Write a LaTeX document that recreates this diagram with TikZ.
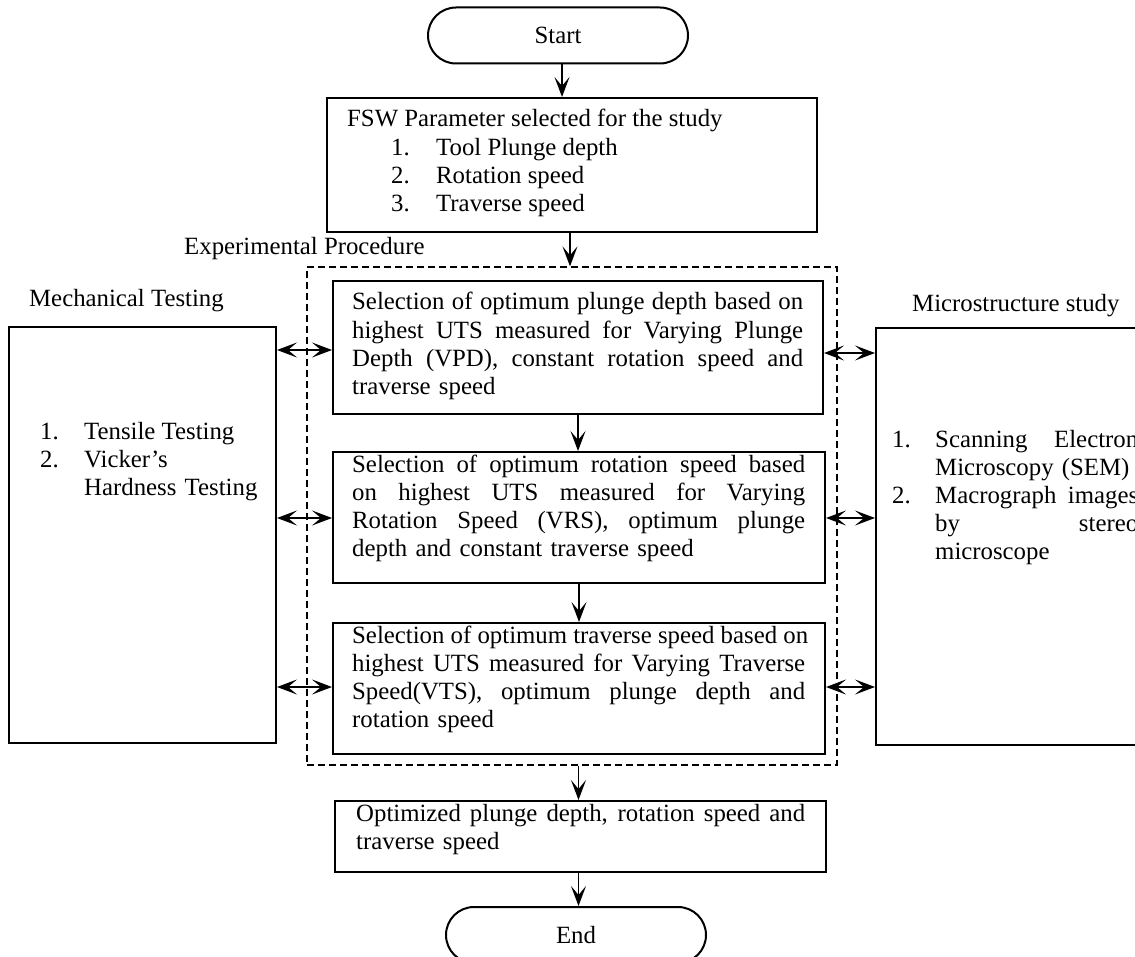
\documentclass[tikz,border=0pt]{standalone}
\usepackage{fontspec}
\setmainfont{Liberation Serif}
\usetikzlibrary{arrows.meta}
\newdimen\curw
\newcommand\jline[1]{\hbox to \curw{\spaceskip=0.25em plus 1fil\relax #1}\par}
\newcommand\lline[1]{\hbox{#1}\par}
\begin{document}
\begin{tikzpicture}[x=1pt,y=-1pt,
  font=\fontsize{24.8}{28.3}\selectfont,
  box/.style={draw,line width=2pt,rectangle,inner sep=0pt},
  term/.style={draw,line width=2pt,rectangle,rounded corners=28pt,minimum width=260pt,minimum height=56pt,inner sep=0pt},
  txt/.style={anchor=base west,inner sep=0pt},
  para/.style={txt,text width=#1,execute at begin node={\global\curw=#1\relax}},
  arr/.style={line width=1.4pt,-{Stealth[length=20pt,width=15pt,inset=9pt]}},
  darr/.style={line width=1.4pt,{Stealth[length=20pt,width=15pt,inset=9pt]}-{Stealth[length=20pt,width=15pt,inset=9pt]}},
  grp/.style={draw,line width=1.3pt,dash pattern=on 7pt off 4pt,inner sep=0pt}
]
\fill[white] (0,0) rectangle (1135,957);
\useasboundingbox (0,0) rectangle (1135,957);

% terminals
\node[term] (start) at (558,35.5) {Start};
\node[term] (stop) at (576,935) {End};

% FSW box
\node[box,minimum width=490pt,minimum height=134pt] (fsw) at (572,165) {};
\node[txt] (f0) at (347,127) {FSW Parameter selected for the study};
\node[txt] (f1n) at (391,156) {1.};
\node[txt] (f1) at (436,156) {Tool Plunge depth};
\node[txt] (f2n) at (391,184) {2.};
\node[txt] (f2) at (436,184) {Rotation speed};
\node[txt] (f3n) at (391,212) {3.};
\node[txt] (f3) at (436,212) {Traverse speed};

% group
\node[txt] (explab) at (184,255) {Experimental Procedure};
\node[grp,minimum width=530pt,minimum height=498pt] (grp) at (572,516) {};

\node[box,minimum width=490pt,minimum height=133pt] (b1) at (578,347.5) {};
\node[para=451pt] (t1) at (352,310) {\jline{Selection of optimum plunge depth based on}\jline{highest UTS measured for Varying Plunge}\jline{Depth (VPD), constant rotation speed and}\lline{traverse speed}};

\node[box,minimum width=492pt,minimum height=131pt] (b2) at (579,517.5) {};
\node[para=453pt] (t2) at (352,472) {\jline{Selection of optimum rotation speed based}\jline{on highest UTS measured for Varying}\jline{Rotation Speed (VRS), optimum plunge}\lline{depth and constant traverse speed}};

\node[box,minimum width=492pt,minimum height=131pt] (b3) at (579,688.5) {};
\node[para=453pt] (t3) at (352,643) {\jline{Selection of optimum traverse speed based on}\jline{highest UTS measured for Varying Traverse}\jline{Speed(VTS), optimum plunge depth and}\lline{rotation speed}};

\node[box,minimum width=491pt,minimum height=71pt] (b4) at (580.5,836.5) {};
\node[para=449pt] (t4) at (356,821) {\jline{Optimized plunge depth, rotation speed and}\lline{traverse speed}};

% side boxes
\node[txt] (mlab) at (29,307) {Mechanical Testing};
\node[box,minimum width=267pt,minimum height=416pt] (mech) at (142.5,535) {};
\node[txt] (m1n) at (40,439) {1.};
\node[txt] (m1) at (84,439) {Tensile Testing};
\node[txt] (m2n) at (40,467) {2.};
\node[para=190pt] (m2) at (84,467) {\lline{Vicker’s}\lline{Hardness Testing}};

\node[txt] (slab) at (912,312) {Microstructure study};
\node[box,minimum width=284pt,minimum height=417pt] (micro) at (1018,536.5) {};
\node[txt] (s1n) at (892,447) {1.};
\node[para=203pt] (s1) at (935,447) {\jline{Scanning Electron}\lline{Microscopy (SEM)}};
\node[txt] (s2n) at (892,503) {2.};
\node[para=203pt] (s2) at (935,503) {\jline{Macrograph images}\jline{by stereo}\lline{microscope}};

% connectors
\draw[arr] ([xshift=4pt]start.south) -- ([xshift=4pt]start.south |- fsw.north);
\draw[arr] ([xshift=-2pt]fsw.south) -- ([xshift=-2pt]fsw.south |- grp.north);
\draw[arr] (b1.south) -- (b1.south |- b2.north);
\draw[arr] (b2.south) -- (b2.south |- b3.north);
\draw[arr] ([xshift=-2pt]b4.north |- grp.south) -- ([xshift=-2pt]b4.north);
\draw[arr] ([xshift=-2pt]b4.south) -- ([xshift=-2pt]b4.south |- stop.north);

\draw[darr] (mech.east |- 0,350) -- (b1.west |- 0,350);
\draw[darr] (mech.east |- 0,518) -- (b2.west |- 0,518);
\draw[darr] (mech.east |- 0,687) -- (b3.west |- 0,687);
\draw[darr] (b1.east |- 0,353) -- (micro.west |- 0,353);
\draw[darr] (b2.east |- 0,518) -- (micro.west |- 0,518);
\draw[darr] (b3.east |- 0,687) -- (micro.west |- 0,687);
\end{tikzpicture}
\end{document}
